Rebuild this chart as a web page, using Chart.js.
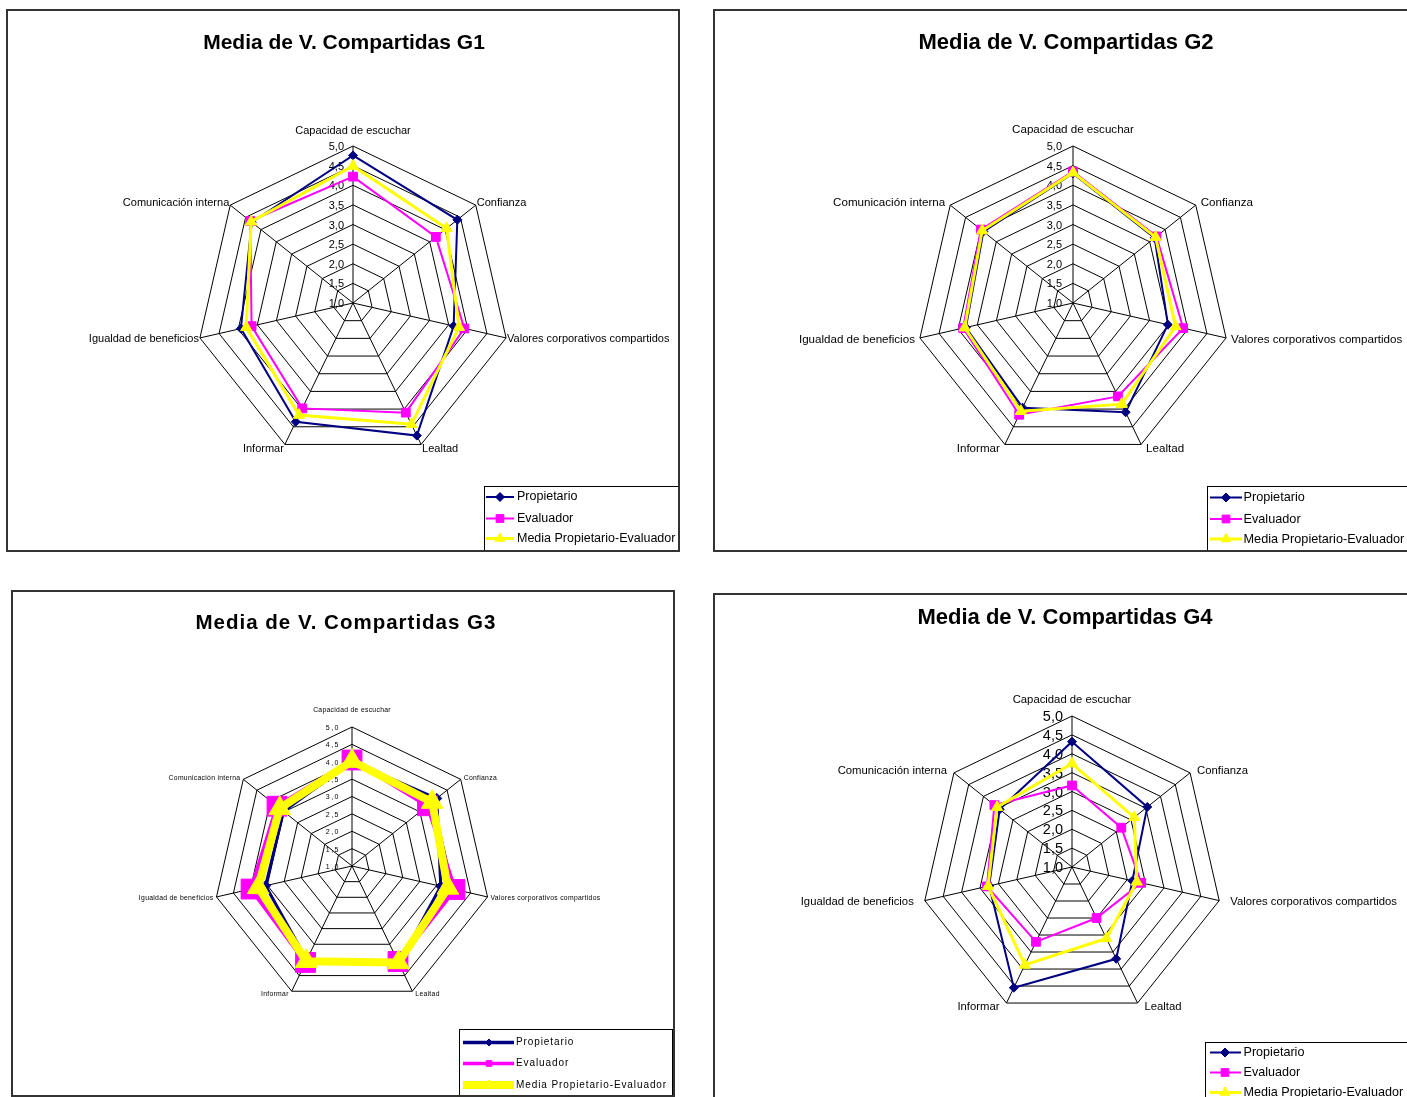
<!DOCTYPE html>
<html lang="es">
<head>
<meta charset="utf-8">
<title>Media de V. Compartidas</title>
<script src="https://cdn.jsdelivr.net/npm/chart.js@4/dist/chart.umd.min.js"></script>
<style>
  html, body { margin: 0; padding: 0; background: #fff; }
  body { width: 1407px; height: 1097px; position: relative; overflow: hidden; }
  .frame { position: absolute; box-sizing: border-box; border: 2px solid #333; background: #fff; }
  canvas { position: absolute; }
</style>
</head>
<body>
<div class="frame" style="left:6px;top:9px;width:674px;height:543px"></div>
<div class="frame" style="left:713px;top:9px;width:720px;height:543px"></div>
<div class="frame" style="left:11px;top:590px;width:664px;height:507px"></div>
<div class="frame" style="left:713px;top:593px;width:720px;height:520px"></div>
<canvas id="g1" width="670" height="539" style="left:8px;top:11px"></canvas>
<canvas id="g2" width="692" height="539" style="left:715px;top:11px"></canvas>
<canvas id="g3" width="660" height="503" style="left:13px;top:592px"></canvas>
<canvas id="g4" width="692" height="502" style="left:715px;top:595px"></canvas>
<script>
// ---- data ----
const categories = [
  'Capacidad de escuchar',
  'Confianza',
  'Valores corporativos compartidos',
  'Lealtad',
  'Informar',
  'Igualdad de beneficios',
  'Comunicación interna'
];
const seriesNames = ['Propietario', 'Evaluador', 'Media Propietario-Evaluador'];
const tickValues = [1, 1.5, 2, 2.5, 3, 3.5, 4, 4.5, 5];
const tickLabels = ['1,0', '1,5', '2,0', '2,5', '3,0', '3,5', '4,0', '4,5', '5,0'];
const titles = ['Media de V. Compartidas G1', 'Media de V. Compartidas G2',
                'Media de V. Compartidas G3', 'Media de V. Compartidas G4'];

const g1Propietario = [4.76, 4.40, 3.63, 4.75, 4.36, 3.93, 4.30];
const g1Evaluador   = [4.22, 3.70, 3.91, 4.10, 3.98, 3.65, 4.35];
const g1Media       = [4.49, 4.05, 3.77, 4.43, 4.17, 3.79, 4.32];

const g2Propietario = [4.30, 3.66, 3.48, 4.09, 3.96, 3.80, 3.92];
const g2Evaluador   = [4.35, 3.72, 3.88, 3.64, 4.16, 3.87, 4.00];
const g2Media       = [4.32, 3.69, 3.68, 3.86, 4.06, 3.83, 3.96];

const g3Propietario = [4.00, 4.12, 3.62, 4.12, 4.00, 3.55, 3.52];
const g3Evaluador   = [4.05, 3.78, 4.04, 4.05, 4.08, 3.98, 3.76];
const g3Media       = [4.02, 3.95, 3.83, 4.08, 4.04, 3.77, 3.66];

const g4Propietario = [4.32, 3.55, 2.64, 3.70, 4.55, 3.25, 3.45];
const g4Evaluador   = [3.16, 2.67, 2.88, 2.50, 3.20, 3.31, 3.63];
const g4Media       = [3.74, 3.11, 2.76, 3.10, 3.88, 3.28, 3.54];

// ---- look of each panel (page coordinates) ----
const seriesColors = ['#000080', '#FF00FF', '#FFFF00'];
const seriesMarkers = ['rectRot', 'rect', 'triangle'];
const FONT = '"Liberation Sans", Arial, sans-serif';

const panels = [
  {
    id: 'g1', canvas: { x: 8, y: 11, w: 670, h: 539 }, center: { x: 353, y: 303 }, radius: 157,
    values: [g1Propietario, g1Evaluador, g1Media], title: titles[0],
    titleAt: { x: 344, y: 43 }, titleFont: 'bold 21px ' + FONT, titleSpacing: 0,
    labelFont: '11px ' + FONT, labelGap: 1, sideGap: 0, labelTop: 15, labelDy: 4, labelSpacing: 0,
    tickFont: '11px ' + FONT, tickGap: 9, tickSpacing: 0,
    lineWidths: [2, 2, 3], markerRadius: [4.5, 6.2, 6.5],
    legend: { box: { x: 484, y: 486, w: 194, h: 64 }, line: [486, 514], marker: 500, text: 517,
              rows: [497, 518.5, 538.5], font: '12.5px ' + FONT, spacing: 0,
              lineWidths: [2, 2, 3], markerRadius: [4.5, 5.5, 5.5] }
  },
  {
    id: 'g2', canvas: { x: 715, y: 11, w: 692, h: 539 }, center: { x: 1073, y: 303 }, radius: 157,
    values: [g2Propietario, g2Evaluador, g2Media], title: titles[1],
    titleAt: { x: 1066, y: 43 }, titleFont: 'bold 22px ' + FONT, titleSpacing: 0,
    labelFont: '11.6px ' + FONT, labelGap: 5, sideGap: 0, labelTop: 16, labelDy: 4, labelSpacing: 0,
    tickFont: '11px ' + FONT, tickGap: 11, tickSpacing: 0,
    lineWidths: [2, 2, 3], markerRadius: [4.5, 6.2, 6.5],
    legend: { box: { x: 1207, y: 486, w: 260, h: 64 }, line: [1210, 1242], marker: 1226, text: 1243.5,
              rows: [497.5, 519, 539], font: '12.7px ' + FONT, spacing: 0,
              lineWidths: [2, 2, 3], markerRadius: [4.5, 5.5, 5.5] }
  },
  {
    id: 'g3', canvas: { x: 13, y: 592, w: 660, h: 503 }, center: { x: 352, y: 866 }, radius: 139,
    values: [g3Propietario, g3Evaluador, g3Media], title: titles[2],
    titleAt: { x: 346, y: 623 }, titleFont: 'bold 20.5px ' + FONT, titleSpacing: 1,
    labelFont: '6.8px ' + FONT, labelGap: 3, sideGap: 0, labelTop: 17, labelDy: 3, labelSpacing: 0.3,
    tickFont: '7px ' + FONT, tickGap: 12, tickSpacing: 1.5,
    lineWidths: [3, 4, 8], markerRadius: [5, 14, 12.5],
    legend: { box: { x: 459, y: 1029, w: 213, h: 67 }, line: [463, 514], marker: 489, text: 516,
              rows: [1042.5, 1063.5, 1085], font: '10px ' + FONT, spacing: 0.9,
              lineWidths: [3.5, 3.5, 8], markerRadius: [3.5, 4, 5] }
  },
  {
    id: 'g4', canvas: { x: 715, y: 595, w: 692, h: 502 }, center: { x: 1072, y: 867 }, radius: 151,
    values: [g4Propietario, g4Evaluador, g4Media], title: titles[3],
    titleAt: { x: 1065, y: 618 }, titleFont: 'bold 22px ' + FONT, titleSpacing: 0,
    labelFont: '11.3px ' + FONT, labelGap: 7, sideGap: 4, labelTop: 16, labelDy: 4, labelSpacing: 0,
    tickFont: '14.5px ' + FONT, tickGap: 9, tickSpacing: 0,
    lineWidths: [2, 2, 3], markerRadius: [4.5, 6.2, 6.5],
    legend: { box: { x: 1205, y: 1042, w: 260, h: 70 }, line: [1210, 1241], marker: 1225, text: 1243.5,
              rows: [1052.5, 1072.5, 1092.5], font: '12.6px ' + FONT, spacing: 0,
              lineWidths: [2, 2, 3], markerRadius: [4.5, 5.5, 5.5] }
  }
];

// ---- drawing helpers ----
function drawText(ctx, text, x, y, font, align, baseline, spacing) {
  ctx.save();
  ctx.font = font;
  ctx.textAlign = align;
  ctx.textBaseline = baseline;
  if ('letterSpacing' in ctx) ctx.letterSpacing = (spacing || 0) + 'px';
  ctx.fillStyle = '#000';
  ctx.fillText(text, x, y);
  ctx.restore();
}

function drawMarker(ctx, style, radius, x, y, color) {
  ctx.save();
  ctx.fillStyle = color;
  ctx.strokeStyle = color;
  ctx.lineWidth = 1;
  if (Chart.helpers && Chart.helpers.drawPoint) {
    Chart.helpers.drawPoint(ctx, { pointStyle: style, radius: radius, rotation: 0, borderWidth: 1 }, x, y);
  }
  ctx.restore();
}

// Tick labels, category labels, title and legend in the Excel layout
const excelRadarDecor = {
  id: 'excelRadarDecor',
  beforeDatasetsDraw(chart, args, o) {
    const s = chart.scales.r, ctx = chart.ctx;
    tickValues.forEach((v, i) => {
      const d = s.getDistanceFromCenterForValue(v);
      drawText(ctx, tickLabels[i], s.xCenter - o.tickGap, s.yCenter - d + 1,
               o.tickFont, 'right', 'middle', o.tickSpacing);
    });
  },
  afterDraw(chart, args, o) {
    const s = chart.scales.r, ctx = chart.ctx;
    const ox = o.canvas.x, oy = o.canvas.y;

    drawText(ctx, o.title, o.titleAt.x - ox, o.titleAt.y - oy, o.titleFont, 'center', 'middle', o.titleSpacing);

    chart.data.labels.forEach((lab, i) => {
      const p = s.getPointPosition(i, s.drawingArea);
      const a = s.getIndexAngle(i);
      const sn = Math.sin(a), cs = Math.cos(a);
      if (Math.abs(sn) < 0.01) {
        drawText(ctx, lab, p.x, p.y - o.labelTop, o.labelFont, 'center', 'middle', o.labelSpacing);
      } else {
        const right = sn > 0;
        const gap = o.labelGap + (Math.abs(cs) < 0.3 ? o.sideGap : 0);
        drawText(ctx, lab, p.x + (right ? gap : -gap), p.y - o.labelDy * cs + 0.5,
                 o.labelFont, right ? 'left' : 'right', 'middle', o.labelSpacing);
      }
    });

    const L = o.legend;
    ctx.save();
    ctx.fillStyle = '#fff';
    ctx.fillRect(L.box.x - ox, L.box.y - oy, L.box.w, L.box.h);
    ctx.strokeStyle = '#000';
    ctx.lineWidth = 1;
    ctx.strokeRect(L.box.x - ox + 0.5, L.box.y - oy + 0.5, L.box.w, L.box.h);
    ctx.restore();
    chart.data.datasets.forEach((ds, i) => {
      const y = L.rows[i] - oy;
      ctx.save();
      ctx.strokeStyle = seriesColors[i];
      ctx.lineWidth = L.lineWidths[i];
      ctx.beginPath();
      ctx.moveTo(L.line[0] - ox, y);
      ctx.lineTo(L.line[1] - ox, y);
      ctx.stroke();
      ctx.restore();
      drawMarker(ctx, seriesMarkers[i], L.markerRadius[i], L.marker - ox, y, seriesColors[i]);
      drawText(ctx, ds.label, L.text - ox, y, L.font, 'left', 'middle', L.spacing);
    });
  }
};

function makeChart(cfg) {
  const c = cfg.canvas, R = cfg.radius;
  const cx = cfg.center.x - c.x, cy = cfg.center.y - c.y;
  const padding = { left: cx - R, top: cy - R, right: c.w - cx - R, bottom: c.h - cy - R };
  const datasets = seriesNames.map((name, i) => ({
    label: name,
    data: cfg.values[i],
    borderColor: seriesColors[i],
    backgroundColor: seriesColors[i],
    pointBackgroundColor: seriesColors[i],
    pointBorderColor: seriesColors[i],
    pointBorderWidth: 1,
    pointStyle: seriesMarkers[i],
    pointRadius: cfg.markerRadius[i],
    pointHoverRadius: cfg.markerRadius[i],
    borderWidth: cfg.lineWidths[i],
    fill: false,
    order: 3 - i
  }));
  return new Chart(document.getElementById(cfg.id), {
    type: 'radar',
    data: { labels: categories, datasets },
    options: {
      responsive: false,
      animation: false,
      devicePixelRatio: 1,
      events: [],
      layout: { padding },
      elements: { line: { tension: 0 } },
      plugins: {
        legend: { display: false },
        title: { display: false },
        tooltip: { enabled: false },
        excelRadarDecor: cfg
      },
      scales: {
        r: {
          min: 1,
          max: 5,
          beginAtZero: false,
          ticks: { display: false, stepSize: 0.5 },
          pointLabels: { display: false },
          grid: { color: '#000', lineWidth: 1 },
          angleLines: { color: '#000', lineWidth: 1 }
        }
      }
    },
    plugins: [excelRadarDecor]
  });
}

panels.forEach(makeChart);
</script>
</body>
</html>
